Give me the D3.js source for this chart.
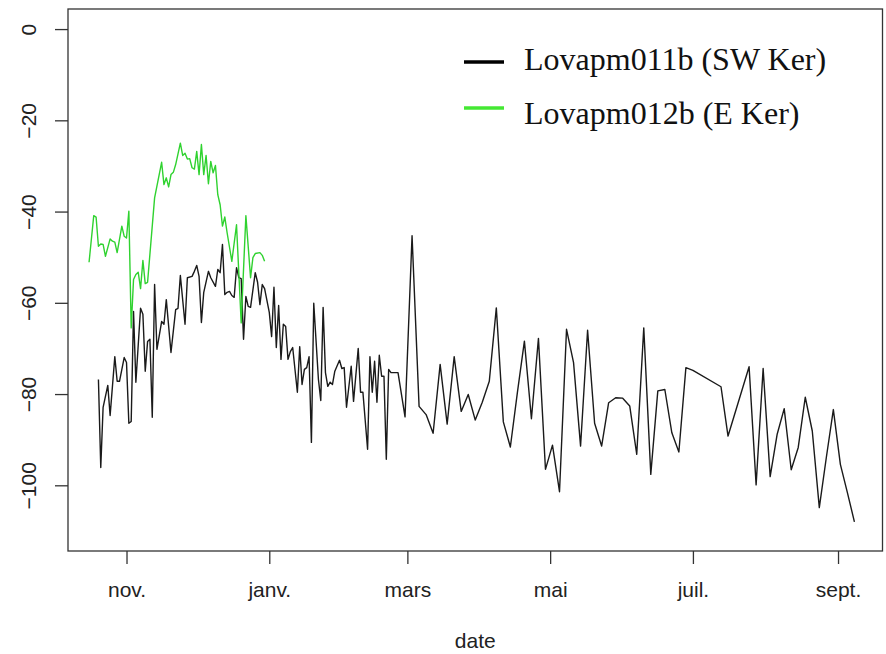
<!DOCTYPE html>
<html><head><meta charset="utf-8">
<script src="https://cdn.jsdelivr.net/npm/d3@7"></script>
<style>body{margin:0;background:#fff}</style>
</head><body><svg id="c" width="886" height="654"></svg>
<script>
// Day offsets are counted from 1 Nov 2018
const baseDate = new Date(2018, 10, 1);

const blackDays = [
  -12,-11,-10,-8,-7,-5,-4,-3,-1,0,
  1,2,3,4,6,7,8,9,10,11,
  12,13,15,16,17,19,21,22,23,25,
  26,28,29,30,31,32,33,35,36,38,
  39,40,41,42,43,44,45,46,47,48,
  49,50,51,52,53,55,56,57,58,59,
  61,62,63,64,65,66,67,68,69,70,
  71,73,74,75,76,77,78,79,80,82,
  83,84,85,86,87,88,89,91,92,93,
  94,96,97,99,100,101,103,104,105,106,
  107,108,109,110,111,112,113,115,116,119,
  122,125,128,131,134,137,140,143,146,149,
  152,155,158,161,164,167,170,173,176,179,
  182,185,188,191,194,197,200,203,206,209,
  212,215,218,221,224,227,230,233,236,239,
  242,254,257,266,269,272,275,278,281,284,
  287,290,293,296,299,302,305,308,311
];
const blackVals = [
  -76.8,-96.1,-82.9,-78.1,-84.7,-71.8,-77.2,-77.2,-72.0,-73.1,
  -86.4,-86.0,-61.9,-77.4,-61.2,-62.5,-75.0,-68.5,-68.0,-85.1,
  -56.0,-70.2,-64.1,-64.7,-59.3,-70.9,-61.5,-61.2,-54.0,-64.7,
  -54.5,-54.2,-53.1,-51.8,-54.2,-64.3,-57.7,-53.1,-54.5,-56.4,
  -52.7,-53.4,-47.2,-58.2,-57.7,-57.5,-58.4,-58.8,-52.3,-54.5,
  -54.7,-68.0,-58.6,-60.8,-61.0,-53.4,-55.5,-60.4,-56.0,-56.9,
  -62.1,-67.4,-56.6,-69.8,-60.6,-72.4,-64.7,-65.2,-72.4,-70.7,
  -69.8,-79.6,-69.6,-77.9,-74.6,-74.2,-71.8,-90.6,-60.1,-76.8,
  -81.4,-61.0,-75.3,-78.3,-77.4,-77.9,-75.0,-72.6,-74.4,-74.2,
  -82.9,-73.9,-81.6,-70.0,-79.6,-79.6,-92.1,-71.8,-79.6,-72.8,
  -81.8,-71.5,-76.1,-76.1,-94.3,-74.6,-75.3,-75.3,-75.3,-85.0,
  -45.3,-82.7,-84.5,-88.6,-73.5,-86.6,-71.8,-83.8,-80.1,-85.7,
  -81.8,-77.2,-61.1,-86.1,-91.6,-79.7,-68.4,-85.4,-67.8,-96.5,
  -91.2,-101.4,-65.8,-73.1,-91.4,-66.0,-86.4,-91.4,-81.9,-80.8,
  -80.9,-82.6,-93.2,-65.5,-97.6,-79.3,-79.0,-88.5,-92.7,-74.2,
  -74.8,-78.4,-89.2,-74.0,-99.9,-74.4,-98.1,-88.8,-83.2,-96.6,
  -91.7,-80.7,-88.1,-104.9,-93.9,-83.4,-95.4,-101.6,-108.0
];

const greenDays = [
  -16,-14,-13,-12,-11,-10,-9,-7,-6,-5,
  -4,-2,-1,0,1,2,3,4,5,6,
  7,8,9,12,15,16,17,18,19,20,
  21,23,24,25,26,27,28,29,30,31,
  32,33,34,35,36,37,38,39,40,41,
  42,43,45,47,49,51,53,54,55,57,
  58,59
];
const greenVals = [
  -51.1,-40.9,-41.2,-47.6,-47.1,-47.2,-49.8,-46.0,-46.5,-46.7,
  -49.0,-43.2,-45.4,-45.8,-39.9,-65.5,-54.9,-53.8,-53.3,-56.9,
  -50.7,-55.8,-55.5,-37.0,-29.2,-34.1,-32.6,-34.6,-31.9,-31.4,
  -29.7,-25.0,-27.7,-27.2,-28.5,-28.4,-30.4,-30.7,-26.8,-31.9,
  -25.3,-31.9,-27.7,-33.9,-29.0,-31.5,-29.9,-36.3,-38.5,-43.2,
  -41.2,-44.7,-50.9,-42.9,-64.4,-40.9,-54.5,-50.1,-49.2,-49.0,
  -49.6,-50.9
];

const yTicks = [0, -20, -40, -60, -80, -100];
const xTickDates = ["2018-11-01","2019-01-01","2019-03-01","2019-05-01","2019-07-01","2019-09-01"];
const xTickLabels = ["nov.","janv.","mars","mai","juil.","sept."];
const seriesNames = ["Lovapm011b (SW Ker)", "Lovapm012b (E Ker)"];
const seriesColors = ["#1a1a1a", "#2fd22f"];
const legendColors = ["#000000", "#44e833"];
const yLim = [-110, 0];
const xLabel = "date";

const svg = d3.select("#c");
const M = {left: 68, right: 882.5, top: 9, bottom: 551};
const toDate = d => d3.timeDay.offset(baseDate, d);
const parse = d3.timeParse("%Y-%m-%d");

// R-style 4% expansion
const dx = d3.extent(blackDays);
const padX = (dx[1] - dx[0]) * 0.04;
const x = d3.scaleTime()
  .domain([toDate(dx[0] - padX), toDate(dx[1] + padX)])
  .range([M.left, M.right]);
const padY = (yLim[1] - yLim[0]) * 0.04;
const y = d3.scaleLinear()
  .domain([yLim[0] - padY, yLim[1] + padY])
  .range([M.bottom, M.top]);

const fontSans = "'Liberation Sans', Arial, sans-serif";
const fs = 21;

// series
const line = d3.line().x(d => x(toDate(d[0]))).y(d => y(d[1]));
const black = d3.zip(blackDays, blackVals);
const green = d3.zip(greenDays, greenVals);
svg.append("path").datum(black).attr("d", line)
  .attr("fill", "none").attr("stroke", seriesColors[0]).attr("stroke-width", 1.4)
  .attr("stroke-linejoin", "round");
svg.append("path").datum(green).attr("d", line)
  .attr("fill", "none").attr("stroke", seriesColors[1]).attr("stroke-width", 1.4)
  .attr("stroke-linejoin", "round");

// box
svg.append("rect").attr("x", M.left).attr("y", M.top)
  .attr("width", M.right - M.left).attr("height", M.bottom - M.top)
  .attr("fill", "none").attr("stroke", "#333").attr("stroke-width", 1.3);

// y axis
const ya = svg.append("g").attr("transform", `translate(${M.left},0)`)
  .call(d3.axisLeft(y).tickValues(yTicks).tickSize(13).tickFormat(d3.format("d")));
ya.select(".domain").remove();
ya.selectAll(".tick line").attr("stroke", "#333").attr("stroke-width", 1.3);
ya.selectAll(".tick text")
  .attr("transform", "rotate(-90)")
  .attr("x", 0).attr("y", -32).attr("dy", 0)
  .attr("text-anchor", "middle")
  .attr("font-family", fontSans).attr("font-size", fs).attr("fill", "#222");

// x axis
const xa = svg.append("g").attr("transform", `translate(0,${M.bottom})`)
  .call(d3.axisBottom(x).tickValues(xTickDates.map(parse)).tickSize(13)
    .tickFormat((d, i) => xTickLabels[i]));
xa.select(".domain").remove();
xa.selectAll(".tick line").attr("stroke", "#333").attr("stroke-width", 1.3);
xa.selectAll(".tick text")
  .attr("y", 46).attr("dy", 0)
  .attr("font-family", fontSans).attr("font-size", fs).attr("fill", "#222");

svg.append("text").attr("x", (M.left + M.right) / 2).attr("y", 648)
  .attr("text-anchor", "middle").attr("font-family", fontSans)
  .attr("font-size", fs).attr("fill", "#222").text(xLabel);

// legend
const lineY = [62, 108];
const textY = [70, 124];
const lg = svg.append("g");
lg.selectAll("line").data(seriesNames).join("line")
  .attr("x1", 464).attr("x2", 504)
  .attr("y1", (d, i) => lineY[i]).attr("y2", (d, i) => lineY[i])
  .attr("stroke", (d, i) => legendColors[i]).attr("stroke-width", 3.5);
lg.selectAll("text").data(seriesNames).join("text")
  .attr("x", 524).attr("y", (d, i) => textY[i])
  .attr("font-family", "'Liberation Serif', 'Times New Roman', serif")
  .attr("font-size", 32).attr("fill", "#111").text(d => d);
</script></body></html>
